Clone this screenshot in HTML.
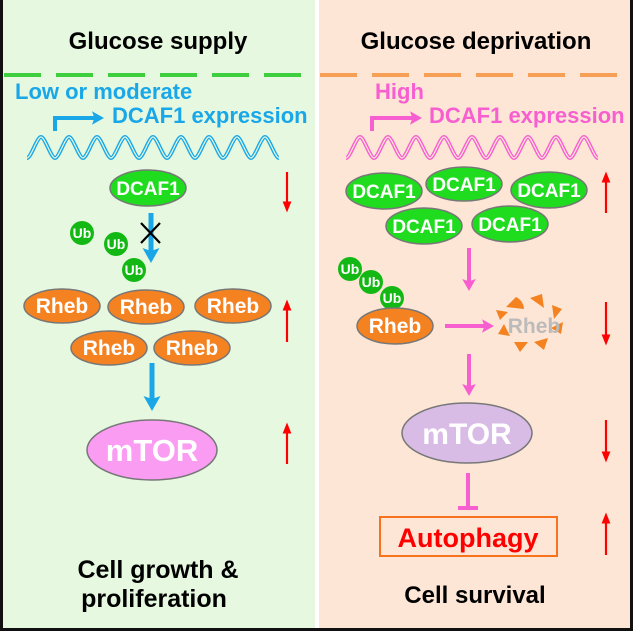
<!DOCTYPE html>
<html><head><style>body{margin:0;background:#000}svg{display:block}text{font-family:"Liberation Sans",Arial,sans-serif;font-weight:bold}</style></head>
<body>
<svg width="633" height="631" viewBox="0 0 633 631">
<defs>
<marker id="ab" markerWidth="4" markerHeight="4" refX="2" refY="2" orient="auto" markerUnits="strokeWidth"><path d="M0,0.3 L3,2 L0,3.7 L0.6,2z" fill="#1aa7e8"/></marker>
<marker id="ap" markerWidth="4" markerHeight="4" refX="2" refY="2" orient="auto" markerUnits="strokeWidth"><path d="M0,0.3 L3,2 L0,3.7 L0.6,2z" fill="#f75fd0"/></marker>
<marker id="ar" markerWidth="5" markerHeight="5" refX="2.5" refY="2.5" orient="auto" markerUnits="strokeWidth"><path d="M0,0.5 L5,2.5 L0,4.5z" fill="#f00"/></marker>
</defs>
<rect x="0" y="0" width="633" height="631" fill="#111"/>
<rect x="3" y="0" width="312" height="628" fill="#e6f9e0"/>
<rect x="315" y="0" width="4" height="628" fill="#fff"/>
<rect x="319" y="0" width="311" height="628" fill="#fde6d6"/>
<text x="158" y="49" font-size="24" text-anchor="middle" fill="#000">Glucose supply</text>
<text x="476" y="49" font-size="24" text-anchor="middle" fill="#000">Glucose deprivation</text>
<line x1="4" y1="75" x2="303" y2="75" stroke="#3ecf3e" stroke-width="4" stroke-dasharray="37,15"/>
<line x1="320" y1="75" x2="620" y2="75" stroke="#f7a055" stroke-width="4" stroke-dasharray="37,15"/>
<!-- left expression -->
<text x="15" y="99" font-size="22" fill="#1aa7e8">Low or moderate</text>
<path d="M55,131 V118 H100" fill="none" stroke="#1aa7e8" stroke-width="4" marker-end="url(#ab)"/>
<text x="112" y="123" font-size="22" fill="#1aa7e8">DCAF1 expression</text>
<g fill="none">
<path d="M27,158 c4,0 10,-21 14,-21 c4,0 10,21 14,21 c4,0 10,-21 14,-21 c4,0 10,21 14,21 c4,0 10,-21 14,-21 c4,0 10,21 14,21 c4,0 10,-21 14,-21 c4,0 10,21 14,21 c4,0 10,-21 14,-21 c4,0 10,21 14,21 c4,0 10,-21 14,-21 c4,0 10,21 14,21 c4,0 10,-21 14,-21 c4,0 10,21 14,21 c4,0 10,-21 14,-21 c4,0 10,21 14,21 c4,0 10,-21 14,-21 c4,0 10,21 14,21" stroke="#1aa7e8" stroke-width="4"/>
<path d="M27,158 c4,0 10,-21 14,-21 c4,0 10,21 14,21 c4,0 10,-21 14,-21 c4,0 10,21 14,21 c4,0 10,-21 14,-21 c4,0 10,21 14,21 c4,0 10,-21 14,-21 c4,0 10,21 14,21 c4,0 10,-21 14,-21 c4,0 10,21 14,21 c4,0 10,-21 14,-21 c4,0 10,21 14,21 c4,0 10,-21 14,-21 c4,0 10,21 14,21 c4,0 10,-21 14,-21 c4,0 10,21 14,21 c4,0 10,-21 14,-21 c4,0 10,21 14,21" stroke="#e6f9e0" stroke-width="1.2"/>
<path d="M346,158 c4,0 10,-21 14,-21 c4,0 10,21 14,21 c4,0 10,-21 14,-21 c4,0 10,21 14,21 c4,0 10,-21 14,-21 c4,0 10,21 14,21 c4,0 10,-21 14,-21 c4,0 10,21 14,21 c4,0 10,-21 14,-21 c4,0 10,21 14,21 c4,0 10,-21 14,-21 c4,0 10,21 14,21 c4,0 10,-21 14,-21 c4,0 10,21 14,21 c4,0 10,-21 14,-21 c4,0 10,21 14,21 c4,0 10,-21 14,-21 c4,0 10,21 14,21" stroke="#f75fd0" stroke-width="4"/>
<path d="M346,158 c4,0 10,-21 14,-21 c4,0 10,21 14,21 c4,0 10,-21 14,-21 c4,0 10,21 14,21 c4,0 10,-21 14,-21 c4,0 10,21 14,21 c4,0 10,-21 14,-21 c4,0 10,21 14,21 c4,0 10,-21 14,-21 c4,0 10,21 14,21 c4,0 10,-21 14,-21 c4,0 10,21 14,21 c4,0 10,-21 14,-21 c4,0 10,21 14,21 c4,0 10,-21 14,-21 c4,0 10,21 14,21 c4,0 10,-21 14,-21 c4,0 10,21 14,21" stroke="#fde6d6" stroke-width="1.2"/>
</g>
<!-- right expression -->
<text x="375" y="99" font-size="22" fill="#f75fd0">High</text>
<path d="M372,131 V118 H418" fill="none" stroke="#f75fd0" stroke-width="4" marker-end="url(#ap)"/>
<text x="429" y="123" font-size="22" fill="#f75fd0">DCAF1 expression</text>
<g stroke="#777" stroke-width="1.5" fill="#1fdc1f">
<ellipse cx="148" cy="188" rx="38" ry="18"/>
<ellipse cx="384" cy="191" rx="38" ry="18"/><ellipse cx="464" cy="184" rx="38" ry="17"/><ellipse cx="549" cy="190" rx="38" ry="18"/><ellipse cx="424" cy="226" rx="38" ry="18"/><ellipse cx="510" cy="224" rx="38" ry="18"/>
</g>
<g font-size="19" fill="#fff" text-anchor="middle">
<text x="148" y="195">DCAF1</text><text x="384" y="198">DCAF1</text><text x="464" y="191">DCAF1</text><text x="549" y="197">DCAF1</text><text x="424" y="233">DCAF1</text><text x="510" y="231">DCAF1</text>
</g>
<!-- Ub -->
<g fill="#14b814"><circle cx="82" cy="233" r="12"/><circle cx="116" cy="244" r="12"/><circle cx="134" cy="270" r="12"/>
<circle cx="350" cy="269" r="12"/><circle cx="371" cy="282" r="12"/><circle cx="392" cy="298" r="12"/></g>
<g font-size="14" fill="#fff" text-anchor="middle"><text x="82" y="238">Ub</text><text x="116" y="249">Ub</text><text x="134" y="275">Ub</text><text x="350" y="274">Ub</text><text x="371" y="287">Ub</text><text x="392" y="303">Ub</text></g>
<line x1="151" y1="213" x2="151" y2="258" stroke="#1aa7e8" stroke-width="5" marker-end="url(#ab)"/>
<path d="M141,223 L160,243 M160,223 L141,243" stroke="#000" stroke-width="2.2"/>
<!-- Rheb -->
<g stroke="#777" stroke-width="1.5" fill="#f58220">
<ellipse cx="62" cy="306" rx="38" ry="17"/><ellipse cx="146" cy="307" rx="38" ry="17"/><ellipse cx="233" cy="306" rx="38" ry="17"/><ellipse cx="109" cy="348" rx="38" ry="17"/><ellipse cx="192" cy="348" rx="38" ry="17"/>
<ellipse cx="395" cy="326" rx="38" ry="18"/>
</g>
<g font-size="21" fill="#fff" text-anchor="middle"><text x="62" y="313">Rheb</text><text x="146" y="314">Rheb</text><text x="233" y="313">Rheb</text><text x="109" y="355">Rheb</text><text x="192" y="355">Rheb</text><text x="395" y="333">Rheb</text></g>
<line x1="152" y1="363" x2="152" y2="406" stroke="#1aa7e8" stroke-width="5" marker-end="url(#ab)"/>
<ellipse cx="152" cy="450" rx="65" ry="30" fill="#f99cf2" stroke="#777" stroke-width="1.5"/>
<text x="152" y="461" font-size="31" fill="#fff" text-anchor="middle">mTOR</text>
<!-- right flow -->
<line x1="469" y1="248" x2="469" y2="287" stroke="#f75fd0" stroke-width="4" marker-end="url(#ap)"/>
<line x1="445" y1="326" x2="490" y2="326" stroke="#f75fd0" stroke-width="4" marker-end="url(#ap)"/>
<g fill="#f58220">
<path d="M506,307 l10,-10 a14,14 0 0 1 8,12z"/><path d="M530,298 l12,-4 l2,14z"/><path d="M552,305 l10,4 l-8,10z"/><path d="M563,322 l-2,12 l-10,-6z"/><path d="M548,338 l-4,12 l-10,-8z"/><path d="M528,342 l-8,10 l-6,-10z"/><path d="M510,336 l-12,-2 l6,-10z"/><path d="M500,320 l-4,-10 l12,2z"/>
</g>
<text x="534" y="333" font-size="21" fill="#bbb" text-anchor="middle">Rheb</text>
<line x1="469" y1="354" x2="469" y2="392" stroke="#f75fd0" stroke-width="4" marker-end="url(#ap)"/>
<ellipse cx="467" cy="433" rx="65" ry="30" fill="#d9bce6" stroke="#777" stroke-width="1.5"/>
<text x="467" y="444" font-size="30" fill="#fff" text-anchor="middle">mTOR</text>
<line x1="468" y1="473" x2="468" y2="508" stroke="#f75fd0" stroke-width="4"/>
<line x1="458" y1="508" x2="478" y2="508" stroke="#f75fd0" stroke-width="4"/>
<rect x="380" y="517" width="177" height="39" fill="none" stroke="#f7731e" stroke-width="2"/>
<text x="468" y="547" font-size="27" fill="#f00" text-anchor="middle">Autophagy</text>
<text x="475" y="603" font-size="24" fill="#000" text-anchor="middle">Cell survival</text>
<text x="158" y="578" font-size="25" fill="#000" text-anchor="middle">Cell growth &amp;</text>
<text x="154" y="607" font-size="25" fill="#000" text-anchor="middle">proliferation</text>
<!-- red arrows -->
<g stroke="#f00" stroke-width="2.2">
<line x1="287" y1="172" x2="287" y2="207" marker-end="url(#ar)"/>
<line x1="287" y1="342" x2="287" y2="305" marker-end="url(#ar)"/>
<line x1="287" y1="464" x2="287" y2="428" marker-end="url(#ar)"/>
<line x1="606" y1="213" x2="606" y2="177" marker-end="url(#ar)"/>
<line x1="606" y1="302" x2="606" y2="340" marker-end="url(#ar)"/>
<line x1="606" y1="420" x2="606" y2="457" marker-end="url(#ar)"/>
<line x1="606" y1="555" x2="606" y2="518" marker-end="url(#ar)"/>
</g>
</svg>
</body></html>
